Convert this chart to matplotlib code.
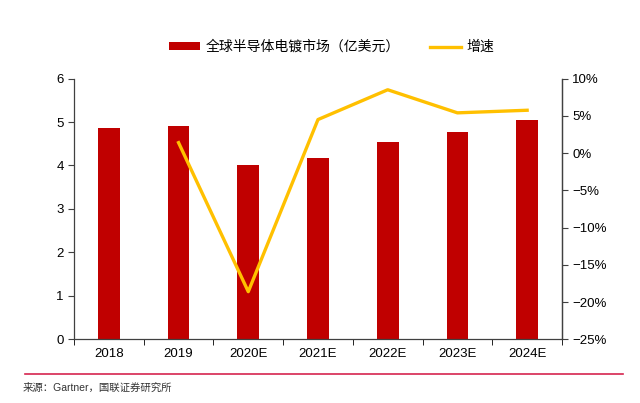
import matplotlib.pyplot as plt
import numpy as np
from matplotlib.lines import Line2D
from matplotlib.patches import Patch
from matplotlib.ticker import FuncFormatter, FixedLocator

plt.rcParams["font.family"] = ["Liberation Sans", "Noto Sans CJK SC", "DejaVu Sans"]

years = ["2018", "2019", "2020E", "2021E", "2022E", "2023E", "2024E"]
market = [4.86, 4.92, 4.00, 4.17, 4.54, 4.78, 5.05]
growth = [np.nan, 1.4, -18.6, 4.5, 8.5, 5.4, 5.75]

bar_color = "#C00000"
line_color = "#FFC000"

fig = plt.figure(figsize=(6.4, 4.03), dpi=100)
ax1 = fig.add_axes([0.1156, 0.158, 0.7625, 0.647])
ax2 = ax1.twinx()

x = np.arange(len(years))
ax1.bar(x, market, width=0.31, color=bar_color, zorder=2)
ax2.plot(x, growth, color=line_color, linewidth=2.4, zorder=3)

ax1.set_xlim(-0.5, len(years) - 0.5)
ax1.set_ylim(0, 6)
ax2.set_ylim(-25, 10)
ax1.set_yticks(range(0, 7))
ax2.set_yticks(range(-25, 11, 5))
ax2.yaxis.set_major_formatter(
    FuncFormatter(lambda v, p: f"{v:.0f}%".replace("-", "\u2212"))
)

# category labels in the middle, tick marks on the boundaries
ax1.set_xticks(x)
ax1.set_xticklabels(years)
ax1.tick_params(axis="x", length=0, pad=6)
ax1.xaxis.set_minor_locator(FixedLocator(np.arange(-0.5, len(years), 1)))
ax1.tick_params(axis="x", which="minor", length=4, direction="out")

for ax in (ax1, ax2):
    ax.spines["top"].set_visible(False)
    for s in ax.spines.values():
        s.set_color("#404040")
        s.set_linewidth(0.9)
    ax.tick_params(axis="y", length=4, direction="out", labelsize=9.5, color="#404040")
ax1.tick_params(axis="x", labelsize=9.5)
ax2.spines["left"].set_visible(False)
ax2.spines["bottom"].set_visible(False)

handles = [
    Patch(facecolor=bar_color, label="全球半导体电镀市场（亿美元）"),
    Line2D([], [], color=line_color, linewidth=2.4, label="增速"),
]
fig.legend(
    handles=handles,
    loc="center",
    bbox_to_anchor=(0.518, 0.883),
    ncol=2,
    frameon=False,
    handlelength=2.2,
    handleheight=0.45,
    handletextpad=0.4,
    columnspacing=2.2,
    prop={"family": ["Noto Sans CJK SC"], "size": 10},
)

fig.add_artist(
    Line2D([0.039, 0.973], [0.073, 0.073], transform=fig.transFigure,
           color="#D6254F", linewidth=1.2)
)
fig.text(0.036, 0.037, "来源：Gartner，国联证券研究所", fontsize=7.5,
         family=["Liberation Sans", "Noto Sans CJK SC"], color="#333333", va="center")

plt.savefig("out.png", dpi=100)
